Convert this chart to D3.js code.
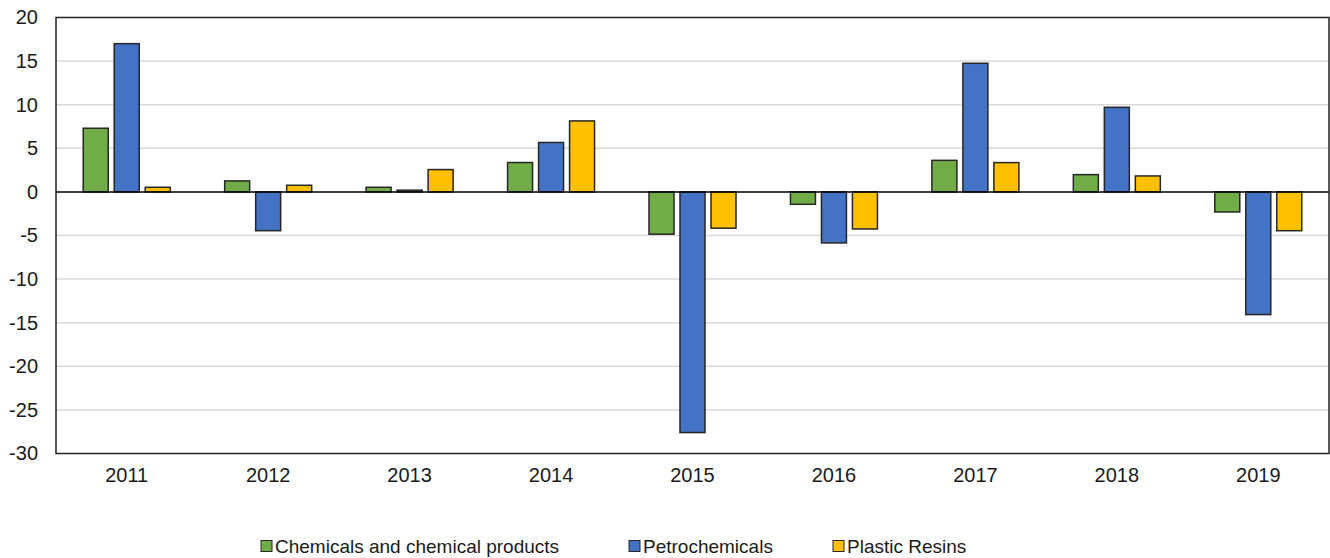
<!DOCTYPE html>
<html><head><meta charset="utf-8">
<script src="https://cdn.jsdelivr.net/npm/d3@7"></script>
<style>body{margin:0;background:#fff}svg{display:block}text{font-family:"Liberation Sans Narrow","Liberation Sans",Arial,sans-serif;fill:#1a1a1a}</style>
</head><body>
<svg id="c" width="1330" height="558"></svg>
<script>
const years = ["2011","2012","2013","2014","2015","2016","2017","2018","2019"];
const seriesNames = ["Chemicals and chemical products","Petrochemicals","Plastic Resins"];
const colors = ["#70ad47","#4472c4","#ffc000"];
const chemicals = [7.3, 1.26, 0.53, 3.37, -4.85, -1.42, 3.62, 1.98, -2.3];
const petrochemicals = [17.0, -4.45, 0.2, 5.67, -27.6, -5.85, 14.75, 9.7, -14.07];
const plasticResins = [0.53, 0.76, 2.56, 8.14, -4.16, -4.25, 3.36, 1.83, -4.45];
const yTicks = [20, 15, 10, 5, 0, -5, -10, -15, -20, -25, -30];
const seriesValues = [chemicals, petrochemicals, plasticResins];

const svg = d3.select("#c");
const L = 56, R = 1329, T = 17.5, B = 453.5;
const x = d3.scaleBand().domain(years).range([L, R]);
const y = d3.scaleLinear().domain([-30, 20]).range([B, T]);
const barW = 25, gap = 6;
const xs = d3.scaleBand().domain(d3.range(3)).range([-(3*barW+2*gap)/2, (3*barW+2*gap)/2]).paddingInner(gap/(barW+gap));

// gridlines
svg.append("g").selectAll("line").data(yTicks.filter(d => d !== 0 && d !== 20 && d !== -30)).join("line")
  .attr("x1", L).attr("x2", R).attr("y1", d => y(d)).attr("y2", d => y(d))
  .attr("stroke", "#d9d9d9").attr("stroke-width", 1.5);

// bars
seriesValues.forEach((vals, s) => {
  svg.append("g").selectAll("rect").data(vals.map((v, i) => ({v, yr: years[i]}))).join("rect")
    .attr("x", d => x(d.yr) + x.bandwidth()/2 + xs(s))
    .attr("width", xs.bandwidth())
    .attr("y", d => y(Math.max(0, d.v)))
    .attr("height", d => Math.abs(y(d.v) - y(0)))
    .attr("fill", colors[s]).attr("stroke", "#262626").attr("stroke-width", 1.5);
});

// zero line
svg.append("line").attr("x1", L).attr("x2", R).attr("y1", y(0)).attr("y2", y(0))
  .attr("stroke", "#000").attr("stroke-width", 1.5);

// frame
svg.append("rect").attr("x", L).attr("y", T).attr("width", R - L).attr("height", B - T)
  .attr("fill", "none").attr("stroke", "#222").attr("stroke-width", 1.5);

// y axis labels
const yAxis = d3.axisLeft(y).tickValues(yTicks).tickSize(0).tickPadding(18).tickFormat(d => String(d));
const gy = svg.append("g").attr("transform", `translate(${L},0)`).call(yAxis);
gy.select(".domain").remove();
gy.selectAll("text").style("font-size", "20px").attr("font-family", null);

// x axis labels
const xAxis = d3.axisBottom(x).tickSize(0).tickPadding(14);
const gx = svg.append("g").attr("transform", `translate(0,${B})`).call(xAxis);
gx.select(".domain").remove();
gx.selectAll("text").style("font-size", "20px").attr("font-family", null);

// legend
const legX = [261, 629, 833];
const leg = svg.append("g").selectAll("g").data(seriesNames).join("g")
  .attr("transform", (d, i) => `translate(${legX[i]},546)`);
leg.append("rect").attr("x", 0).attr("y", -5.5).attr("width", 11).attr("height", 11)
  .attr("fill", (d, i) => colors[i]).attr("stroke", "#262626").attr("stroke-width", 1);
leg.append("text").attr("x", 14).attr("dy", "0.35em").style("font-size", "19px").text(d => d);
</script>
</body></html>
